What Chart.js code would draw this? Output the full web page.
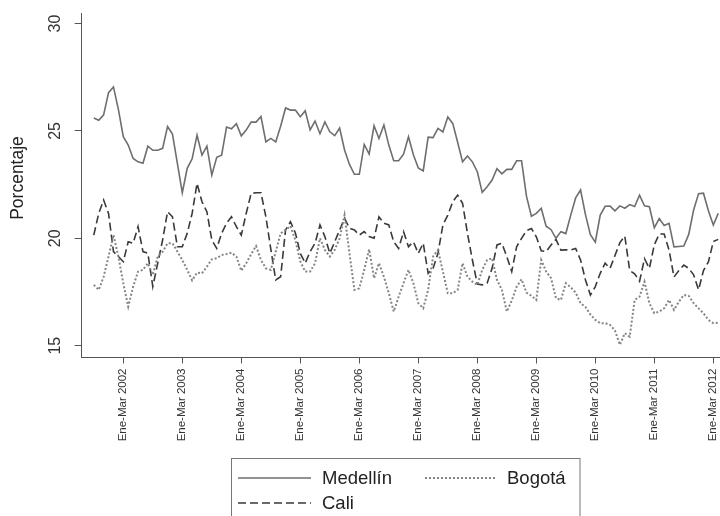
<!DOCTYPE html>
<html>
<head>
<meta charset="utf-8">
<script src="https://cdn.jsdelivr.net/npm/chart.js@4"></script>
<style>
html,body{margin:0;padding:0;background:#fff;}
#wrap{width:720px;height:516px;position:relative;}
</style>
</head>
<body>
<div id="wrap"><canvas id="c"></canvas></div>
<script>
// Rolling quarters (trimestre móvil), first = Jul-Sep 2001, last = Feb-Abr 2012
const trimestres = ["Ene-Mar","Feb-Abr","Mar-May","Abr-Jun","May-Jul","Jun-Ago","Jul-Sep","Ago-Oct","Sep-Nov","Oct-Dic","Nov-Ene","Dic-Feb"];
const periodos = [];
for (let i = 0; i < 128; i++) {
  const k = 6 + i;
  periodos.push(trimestres[k % 12] + " " + (2001 + Math.floor(k / 12)));
}

const medellin = [25.6,25.5,25.75,26.78,27.05,26.0,24.73,24.34,23.72,23.56,
23.49,24.29,24.1,24.1,24.19,25.2,24.85,23.49,22.12,23.26,
23.7,24.8,23.87,24.29,22.94,23.77,23.87,25.18,25.1,25.34,
24.77,25.04,25.41,25.41,25.67,24.49,24.65,24.49,25.22,26.07,
25.97,25.97,25.66,25.94,25.05,25.46,24.87,25.42,24.96,24.78,
25.13,24.11,23.44,22.98,22.98,24.37,23.92,25.24,24.65,25.28,
24.34,23.61,23.61,23.92,24.73,23.89,23.27,23.14,24.71,24.69,
25.12,24.95,25.65,25.35,24.47,23.56,23.83,23.56,23.1,22.14,
22.4,22.71,23.24,23.0,23.21,23.21,23.61,23.61,21.96,21.03,
21.16,21.4,20.56,20.4,20.0,20.31,20.22,21.08,21.88,22.25,
21.1,20.17,19.82,21.08,21.49,21.5,21.28,21.51,21.4,21.57,
21.48,22.01,21.51,21.47,20.49,20.92,20.6,20.7,19.6,19.62,
19.64,20.18,21.32,22.08,22.1,21.28,20.62,21.16];

const cali = [20.15,21.16,21.78,21.16,19.38,19.15,18.91,19.84,19.77,20.54,
19.38,19.3,17.75,18.84,19.92,21.24,21.0,19.61,19.61,20.23,
21.16,22.56,21.7,21.24,19.92,19.53,20.23,20.7,21.0,20.54,
20.15,21.16,22.09,22.12,22.12,21.0,19.5,18.06,18.21,20.39,
20.77,20.25,19.3,18.84,19.38,19.77,20.62,20.08,19.3,19.84,
20.39,20.93,20.47,20.39,20.15,20.31,20.08,20.0,21.0,20.7,
20.62,19.84,19.53,20.31,19.61,19.84,19.3,19.77,18.37,18.6,
19.3,20.62,21.08,21.7,22.01,21.63,20.23,18.99,17.87,17.83,
17.91,18.6,19.69,19.77,19.15,18.45,19.61,20.0,20.35,20.46,
20.07,19.42,19.38,19.69,19.95,19.45,19.46,19.46,19.53,18.99,
18.06,17.36,17.75,18.37,18.84,18.6,19.2,19.8,20.1,18.5,
18.35,18.0,19.05,18.6,19.7,20.2,20.2,19.45,18.2,18.5,
18.75,18.6,18.3,17.6,18.5,18.9,19.85,19.95];

const bogota = [17.83,17.6,18.21,19.15,20.15,19.15,17.91,16.82,17.75,18.45,
18.53,18.84,18.3,19.15,19.38,19.77,19.77,19.38,18.99,18.53,
18.04,18.4,18.37,18.68,19.02,19.07,19.22,19.27,19.33,19.15,
18.49,18.84,19.26,19.64,18.99,18.6,18.53,19.38,20.23,20.39,
20.57,19.92,18.92,18.45,18.45,18.84,20.0,19.46,19.15,19.46,
20.0,21.08,19.3,17.6,17.67,18.53,19.49,18.14,18.84,18.21,
17.44,16.59,17.28,17.91,18.53,17.91,16.98,16.74,17.6,19.15,
19.46,18.45,17.44,17.44,17.6,18.84,18.21,17.98,17.83,18.53,
18.99,19.07,18.06,17.6,16.59,17.1,17.75,18.09,17.47,17.32,
17.13,18.99,18.45,18.14,17.21,17.13,17.91,17.72,17.47,16.98,
16.8,16.45,16.2,16.05,16.05,15.97,15.7,15.04,15.58,15.42,
17.13,17.28,17.98,16.98,16.51,16.59,16.74,17.13,16.67,17.05,
17.36,17.32,16.98,16.74,16.51,16.2,16.05,16.07];

const yTicks = [15, 20, 25, 30];
const yTitle = "Porcentaje";
const xTickPrefix = "Ene-Mar";

const toPts = arr => arr.map((v, i) => ({x: i, y: v}));
const FONT = '"Liberation Sans", Arial, Helvetica, sans-serif';

const yAxisText = {
  id: 'yAxisText',
  afterDraw(chart) {
    const ctx = chart.ctx, ys = chart.scales.y;
    ctx.save();
    ctx.fillStyle = '#333';
    ctx.textAlign = 'center';
    ctx.textBaseline = 'middle';
    ctx.font = '16px ' + FONT;
    yTicks.forEach(v => {
      const py = ys.getPixelForValue(v);
      ctx.save(); ctx.translate(56, py); ctx.rotate(-Math.PI / 2);
      ctx.fillText(String(v), 0, 0); ctx.restore();
    });
    ctx.font = '17.5px ' + FONT;
    ctx.fillStyle = '#222';
    ctx.save(); ctx.translate(18, 178); ctx.rotate(-Math.PI / 2);
    ctx.fillText(yTitle, 0, 0); ctx.restore();
    ctx.restore();
  }
};

const boxLegend = {
  id: 'boxLegend',
  afterDraw(chart) {
    const ctx = chart.ctx;
    ctx.save();
    ctx.strokeStyle = '#777';
    ctx.lineWidth = 1;
    ctx.strokeRect(231.5, 458.5, 348.5, 80);
    const slots = [
      {ds: 0, x1: 238, x2: 311, y: 478, tx: 322},
      {ds: 1, x1: 425, x2: 497, y: 478, tx: 507},
      {ds: 2, x1: 238, x2: 311, y: 503, tx: 322}
    ];
    ctx.font = '18.5px ' + FONT;
    ctx.textAlign = 'left';
    ctx.textBaseline = 'middle';
    slots.forEach(s => {
      const d = chart.data.datasets[s.ds];
      ctx.save();
      ctx.strokeStyle = d.borderColor;
      ctx.lineWidth = d.borderWidth;
      ctx.setLineDash(d.borderDash || []);
      ctx.beginPath(); ctx.moveTo(s.x1, s.y); ctx.lineTo(s.x2, s.y); ctx.stroke();
      ctx.restore();
      ctx.fillStyle = '#222';
      ctx.fillText(d.label, s.tx, s.y + 1);
    });
    ctx.restore();
  }
};

new Chart(document.getElementById('c'), {
  type: 'line',
  data: {
    datasets: [
      {label: 'Medellín', data: toPts(medellin), borderColor: '#6e6e6e', borderWidth: 1.6, borderDash: [], pointRadius: 0, tension: 0, fill: false},
      {label: 'Bogotá', data: toPts(bogota), borderColor: '#858585', borderWidth: 2, borderDash: [2, 2], pointRadius: 0, tension: 0, fill: false},
      {label: 'Cali', data: toPts(cali), borderColor: '#3a3a3a', borderWidth: 1.6, borderDash: [8, 4], pointRadius: 0, tension: 0, fill: false}
    ]
  },
  options: {
    responsive: true,
    maintainAspectRatio: false,
    animation: false,
    layout: {padding: {top: 13, right: 0, left: 0, bottom: 0}},
    plugins: {legend: {display: false}, tooltip: {enabled: false}},
    scales: {
      x: {
        type: 'linear',
        min: -2.46,
        max: 127.36,
        afterBuildTicks: s => {
          s.ticks = periodos.map((p, i) => ({value: i, p})).filter(t => t.p.startsWith(xTickPrefix)).map(t => ({value: t.value}));
        },
        afterFit: s => { s.height = 516 - 357.5; s.paddingRight = 0; s.paddingLeft = 0; },
        ticks: {
          autoSkip: false,
          minRotation: 90,
          maxRotation: 90,
          padding: 5,
          color: '#333',
          font: {family: FONT, size: 11.5},
          callback: v => periodos[v]
        },
        grid: {display: true, drawOnChartArea: false, drawTicks: true, tickLength: 6, color: '#555'},
        border: {display: true, color: '#555', width: 1}
      },
      y: {
        type: 'linear',
        min: 14.45,
        max: 30.49,
        afterBuildTicks: s => { s.ticks = yTicks.map(v => ({value: v})); },
        afterFit: s => { s.width = 81.7; },
        ticks: {display: false},
        grid: {display: true, drawOnChartArea: false, drawTicks: true, tickLength: 7, color: '#555'},
        border: {display: true, color: '#555', width: 1}
      }
    }
  },
  plugins: [yAxisText, boxLegend]
});
</script>
</body>
</html>
